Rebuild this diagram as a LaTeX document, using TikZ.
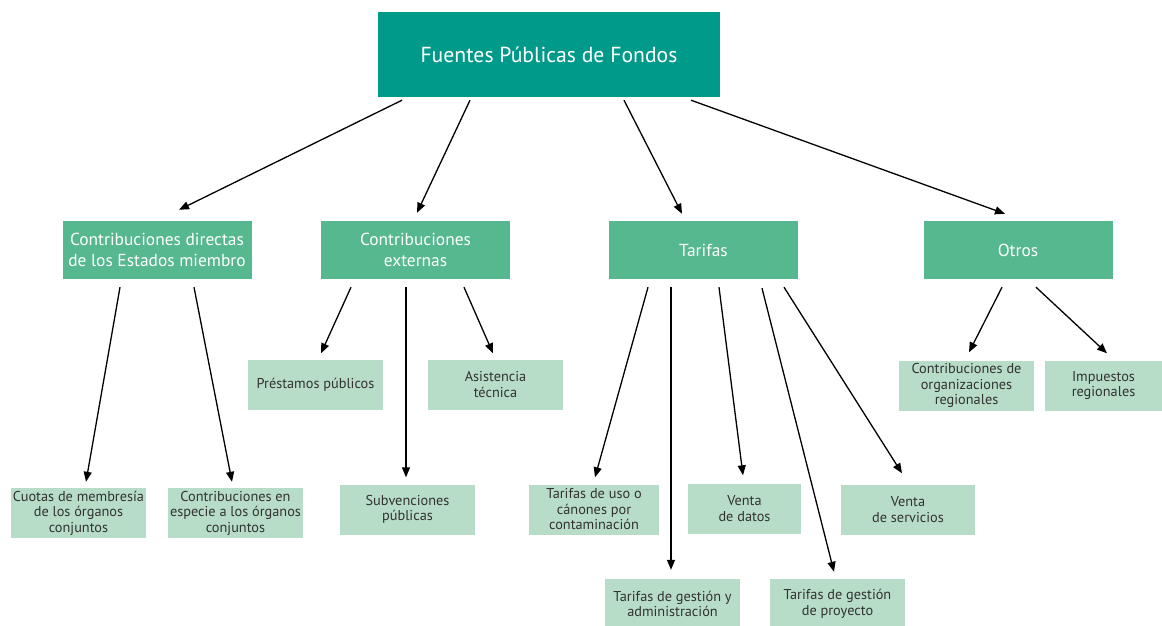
\documentclass[tikz,border=0pt]{standalone}
\usepackage{fontspec}
\setmainfont{PT Sans}
\usepackage{tikz}
\usetikzlibrary{calc,arrows.meta,positioning}

\definecolor{topcol}{RGB}{0,154,138}
\definecolor{midcol}{RGB}{85,184,142}
\definecolor{leafcol}{RGB}{183,220,199}
\definecolor{leaftext}{RGB}{50,50,50}

\begin{document}
\begin{tikzpicture}[x=1pt,y=-1pt,
  topbox/.style={fill=topcol,text=white,minimum width=342pt,minimum height=85pt,inner sep=0pt,font=\fontsize{21.7}{26}\selectfont},
  midbox/.style={fill=midcol,text=white,minimum width=189pt,minimum height=58pt,inner sep=0pt,align=center,font=\fontsize{17.4}{21.5}\selectfont},
  leafbox/.style={fill=leafcol,text=leaftext,minimum height=50pt,inner sep=0pt,align=center,font=\fontsize{14.3}{15.5}\selectfont},
  arr/.style={-{Triangle[length=10pt,width=8pt]},line width=1.3pt}]
  \useasboundingbox (0,0) rectangle (1162,626);

  \node[topbox] (fuentes) at (549,54.5) {Fuentes Públicas de Fondos};

  \node[midbox] (directas) at (157,250) {Contribuciones directas\\de los Estados miembro};
  \node[midbox] (externas) at (415.5,250) {Contribuciones\\externas};
  \node[midbox] (tarifas) at (703.5,250) {Tarifas};
  \node[midbox] (otros) at (1018,250) {Otros};

  \node[leafbox,minimum width=135pt] (cuotas) at (78.5,513) {Cuotas de membresía\\de los órganos\\conjuntos};
  \node[leafbox,minimum width=135pt] (especie) at (235.5,513) {Contribuciones en\\especie a los órganos\\conjuntos};
  \node[leafbox,minimum width=135pt] (prestamos) at (315.5,384.5) {Préstamos públicos};
  \node[leafbox,minimum width=135pt] (asistencia) at (495.5,384.5) {Asistencia\\técnica};
  \node[leafbox,minimum width=135pt] (subvenciones) at (407.5,509.5) {Subvenciones\\públicas};
  \node[leafbox,minimum width=130pt] (uso) at (594,509.5) {Tarifas de uso o\\cánones por\\contaminación};
  \node[leafbox,minimum width=113pt] (datos) at (744.5,508.5) {Venta\\de datos};
  \node[leafbox,minimum width=134pt] (servicios) at (908,509.5) {Venta\\de servicios};
  \node[leafbox,minimum width=135pt] (gestion) at (672.5,604) {Tarifas de gestión y\\administración};
  \node[leafbox,minimum width=135pt] (proyecto) at (837.5,604) {Tarifas de gestión\\de proyecto};
  \node[leafbox,minimum width=135pt] (regionales) at (966.5,385.5) {Contribuciones de\\organizaciones\\regionales};
  \node[leafbox,minimum width=117pt] (impuestos) at (1103.5,385.5) {Impuestos\\regionales};

  \draw[arr] ($(fuentes.south)+(-147,3)$) -- ($(directas.north)+(22,-11)$);
  \draw[arr] ($(fuentes.south)+(-79,3)$) -- ($(externas.north)+(1.5,-8)$);
  \draw[arr] ($(fuentes.south)+(75,3)$) -- ($(tarifas.north)+(-21.5,-7)$);
  \draw[arr] ($(fuentes.south)+(142,3)$) -- ($(otros.north)+(-13,-7)$);

  \draw[arr] ($(directas.south)+(-37,8)$) -- ($(cuotas.north)+(7.5,-6)$);
  \draw[arr] ($(directas.south)+(37,8)$) -- ($(especie.north)+(-3.5,-6)$);

  \draw[arr] ($(externas.south)+(-64.5,8)$) -- ($(prestamos.north)+(5.5,-6)$);
  \draw[arr] ($(externas.south)+(-9.5,8)$) -- ($(subvenciones.north)+(-1.5,-7)$);
  \draw[arr] ($(externas.south)+(48.5,8)$) -- ($(asistencia.north)+(-2.5,-6)$);

  \draw[arr] ($(tarifas.south)+(-55.5,8)$) -- ($(uso.north)+(1,-7)$);
  \draw[arr] ($(tarifas.south)+(-32.5,8)$) -- ($(gestion.north)+(-1.5,-9)$);
  \draw[arr] ($(tarifas.south)+(15.5,8)$) -- ($(datos.north)+(-1.5,-8)$);
  \draw[arr] ($(tarifas.south)+(58.5,9)$) -- ($(proyecto.north)+(-3.5,-7)$);
  \draw[arr] ($(tarifas.south)+(80.5,8)$) -- ($(servicios.north)+(-6,-11)$);

  \draw[arr] ($(otros.south)+(-16,8)$) -- ($(regionales.north)+(2.5,-8)$);
  \draw[arr] ($(otros.south)+(18,8)$) -- ($(impuestos.north)+(3.5,-7)$);
\end{tikzpicture}
\end{document}
